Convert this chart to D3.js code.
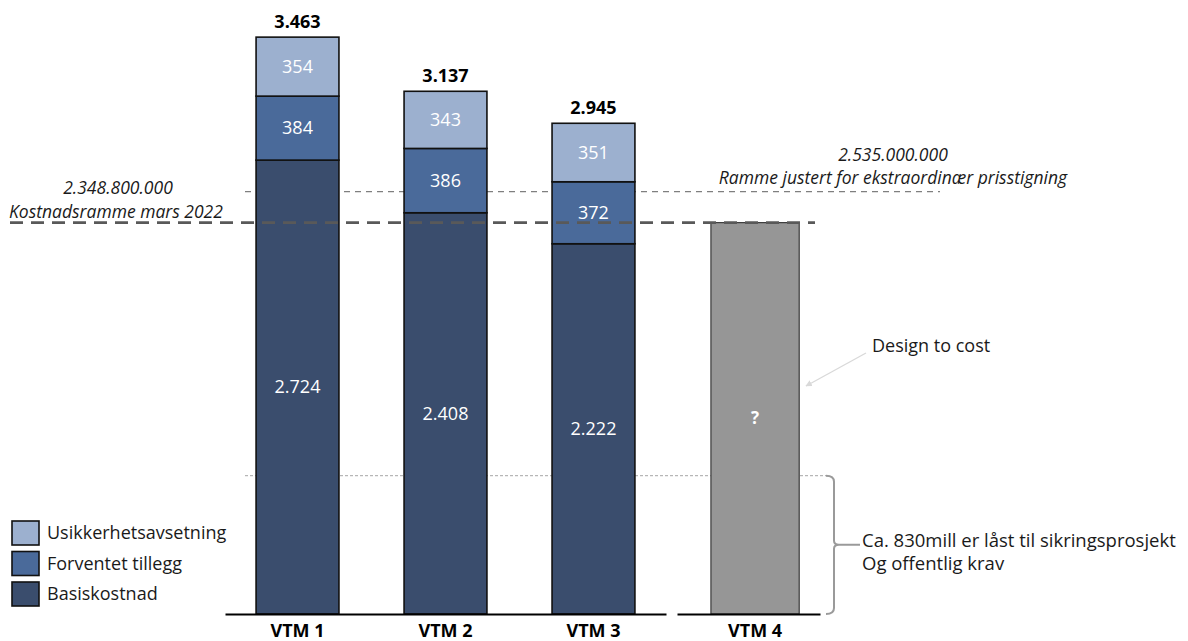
<!DOCTYPE html>
<html>
<head>
<meta charset="utf-8">
<script src="https://cdn.jsdelivr.net/npm/d3@7/dist/d3.min.js"></script>
<style>
  html, body { margin: 0; padding: 0; background: #fff; }
  svg { display: block; font-family: "Open Sans", Lato, sans-serif; }
</style>
</head>
<body>
<svg id="chart" width="1188" height="641"></svg>
<script>
// Cost estimates per alternative (MNOK)
const categories = ["VTM 1", "VTM 2", "VTM 3"];
const seriesNames = ["Basiskostnad", "Forventet tillegg", "Usikkerhetsavsetning"];
const basiskostnad = [2724, 2408, 2222];
const forventetTillegg = [384, 386, 372];
const usikkerhetsavsetning = [354, 343, 351];
const totals = [3463, 3137, 2945];
const totalLabels = ["3.463", "3.137", "2.945"];
const segmentLabels = [
  ["2.724", "2.408", "2.222"],
  ["384", "386", "372"],
  ["354", "343", "351"]
];

// Design-to-cost alternative and reference levels
const altCategory = "VTM 4";
const altValue = 2348.8;
const rammeMars2022 = 2348.8;
const rammeJustert = 2535;
const laastBelop = 830;

const colors = ["#3a4d6d", "#4a6a9a", "#9cb0cf"];
const FONT = "'Open Sans', Lato, sans-serif";
const FS = 18;

const svg = d3.select("#chart");

const y = d3.scaleLinear().domain([0, 3500]).range([614, 30.8]);

const x = d3.scaleBand().domain(categories)
  .range([225, 666]).paddingInner(0.44).paddingOuter(0.21);
const x4 = d3.scaleBand().domain([altCategory])
  .range([677, 820]).paddingInner(0).paddingOuter(0.31).align(0.62);

// Stack the three components
const table = categories.map((c, i) => ({
  cat: c,
  Basiskostnad: basiskostnad[i],
  "Forventet tillegg": forventetTillegg[i],
  Usikkerhetsavsetning: usikkerhetsavsetning[i]
}));
const stacked = d3.stack().keys(seriesNames)(table);

// Reference lines (drawn beneath the bars)
svg.append("line")
  .attr("x1", 245).attr("x2", 940)
  .attr("y1", y(rammeJustert)).attr("y2", y(rammeJustert))
  .attr("stroke", "#7f7f7f").attr("stroke-width", 1.3)
  .attr("stroke-dasharray", "6,5");

svg.append("line")
  .attr("x1", 245).attr("x2", 830)
  .attr("y1", y(laastBelop)).attr("y2", y(laastBelop))
  .attr("stroke", "#a6a6a6").attr("stroke-width", 1)
  .attr("stroke-dasharray", "3,2");

// Bars
stacked.forEach((layer, li) => {
  svg.append("g").selectAll("rect")
    .data(layer)
    .join("rect")
    .attr("x", d => x(d.data.cat))
    .attr("width", x.bandwidth())
    .attr("y", d => y(d[1]))
    .attr("height", d => y(d[0]) - y(d[1]))
    .attr("fill", colors[li])
    .attr("stroke", "#111")
    .attr("stroke-width", 1.6);
});

// Segment labels
stacked.forEach((layer, li) => {
  svg.append("g").selectAll("text")
    .data(layer)
    .join("text")
    .attr("x", d => x(d.data.cat) + x.bandwidth() / 2)
    .attr("y", d => (y(d[0]) + y(d[1])) / 2)
    .attr("dy", "0.35em")
    .attr("text-anchor", "middle")
    .attr("fill", "#fff")
    .attr("font-size", FS)
    .text((d, i) => segmentLabels[li][i]);
});

// Totals
svg.append("g").selectAll("text")
  .data(categories)
  .join("text")
  .attr("x", d => x(d) + x.bandwidth() / 2)
  .attr("y", (d, i) => y(totals[i]) - 9)
  .attr("text-anchor", "middle")
  .attr("font-size", FS)
  .attr("font-weight", "bold")
  .attr("fill", "#000")
  .text((d, i) => totalLabels[i]);

// VTM 4 bar
svg.append("rect")
  .attr("x", x4(altCategory))
  .attr("width", x4.bandwidth())
  .attr("y", y(altValue))
  .attr("height", y(0) - y(altValue))
  .attr("fill", "#969696")
  .attr("stroke", "#3a3a3a")
  .attr("stroke-width", 1.2);

svg.append("text")
  .attr("x", x4(altCategory) + x4.bandwidth() / 2)
  .attr("y", y(altValue / 2))
  .attr("dy", "0.35em")
  .attr("text-anchor", "middle")
  .attr("fill", "#fff")
  .attr("font-weight", "bold")
  .attr("font-size", 17)
  .text("?");

// Cost frame March 2022 (heavy dashed line)
svg.append("line")
  .attr("x1", 10).attr("x2", 815)
  .attr("y1", y(rammeMars2022)).attr("y2", y(rammeMars2022))
  .attr("stroke", "#595959").attr("stroke-width", 2.6)
  .attr("stroke-dasharray", "13,8");

// Baseline axes
const xAxis = d3.axisBottom(x).tickSize(0).tickPadding(10);
const gx = svg.append("g").attr("transform", `translate(0,${y(0)})`).call(xAxis);
const x4Axis = d3.axisBottom(x4).tickSize(0).tickPadding(10);
const gx4 = svg.append("g").attr("transform", `translate(0,${y(0)})`).call(x4Axis);
[gx, gx4].forEach(g => {
  g.select(".domain").attr("stroke", "#000").attr("stroke-width", 2);
  g.selectAll("text")
    .attr("font-family", FONT)
    .attr("font-size", FS)
    .attr("font-weight", "bold")
    .attr("fill", "#000");
});

// Annotations
const ital = (tx, ty, str, anchor) => svg.append("text")
  .attr("x", tx).attr("y", ty)
  .attr("text-anchor", anchor)
  .attr("font-style", "italic")
  .attr("font-size", 17.5)
  .attr("fill", "#1a1a1a")
  .text(str);

ital(118, 194, "2.348.800.000", "middle");
ital(9, 218, "Kostnadsramme mars 2022", "start");
ital(893, 161, "2.535.000.000", "middle");
ital(893, 184, "Ramme justert for ekstraordinær prisstigning", "middle");

svg.append("text")
  .attr("x", 872).attr("y", 352)
  .attr("font-size", FS).attr("fill", "#1a1a1a")
  .text("Design to cost");

// Arrow toward VTM 4
svg.append("defs").append("marker")
  .attr("id", "arrowHead")
  .attr("viewBox", "0 0 10 10")
  .attr("refX", 9).attr("refY", 5)
  .attr("markerWidth", 5).attr("markerHeight", 5)
  .attr("orient", "auto")
  .append("path").attr("d", "M0,0 L10,5 L0,10 z").attr("fill", "#d9d9d9");

svg.append("line")
  .attr("x1", 866).attr("y1", 353)
  .attr("x2", 806).attr("y2", 386)
  .attr("stroke", "#d9d9d9").attr("stroke-width", 1.3)
  .attr("marker-end", "url(#arrowHead)");

// Brace marking the locked amount
const yTop = y(laastBelop), yBot = y(0), yMid = (yTop + yBot) / 2;
const bx = 834;
svg.append("path")
  .attr("d", `M${bx - 8},${yTop} Q${bx},${yTop} ${bx},${yTop + 6}
              L${bx},${yMid - 4} Q${bx},${yMid} ${bx + 5},${yMid}
              L${bx + 26},${yMid}
              M${bx + 5},${yMid} Q${bx},${yMid} ${bx},${yMid + 4}
              L${bx},${yBot - 6} Q${bx},${yBot} ${bx - 8},${yBot}`)
  .attr("fill", "none")
  .attr("stroke", "#9a9a9a")
  .attr("stroke-width", 2);

svg.append("text")
  .attr("x", 862).attr("y", 547)
  .attr("font-size", 18.5).attr("fill", "#1a1a1a")
  .text("Ca. 830mill er låst til sikringsprosjekt");
svg.append("text")
  .attr("x", 862).attr("y", 570)
  .attr("font-size", 18.5).attr("fill", "#1a1a1a")
  .text("Og offentlig krav");

// Legend
const legendItems = seriesNames.slice().reverse();
const legendColors = colors.slice().reverse();
const lg = svg.append("g").attr("transform", "translate(12,521)");
legendItems.forEach((name, i) => {
  const row = lg.append("g").attr("transform", `translate(0,${i * 30.5})`);
  row.append("rect")
    .attr("width", 27).attr("height", 24)
    .attr("fill", legendColors[i])
    .attr("stroke", "#111").attr("stroke-width", 1.6);
  row.append("text")
    .attr("x", 35).attr("y", 12).attr("dy", "0.35em")
    .attr("font-size", FS).attr("fill", "#1a1a1a")
    .text(name);
});
</script>
</body>
</html>
